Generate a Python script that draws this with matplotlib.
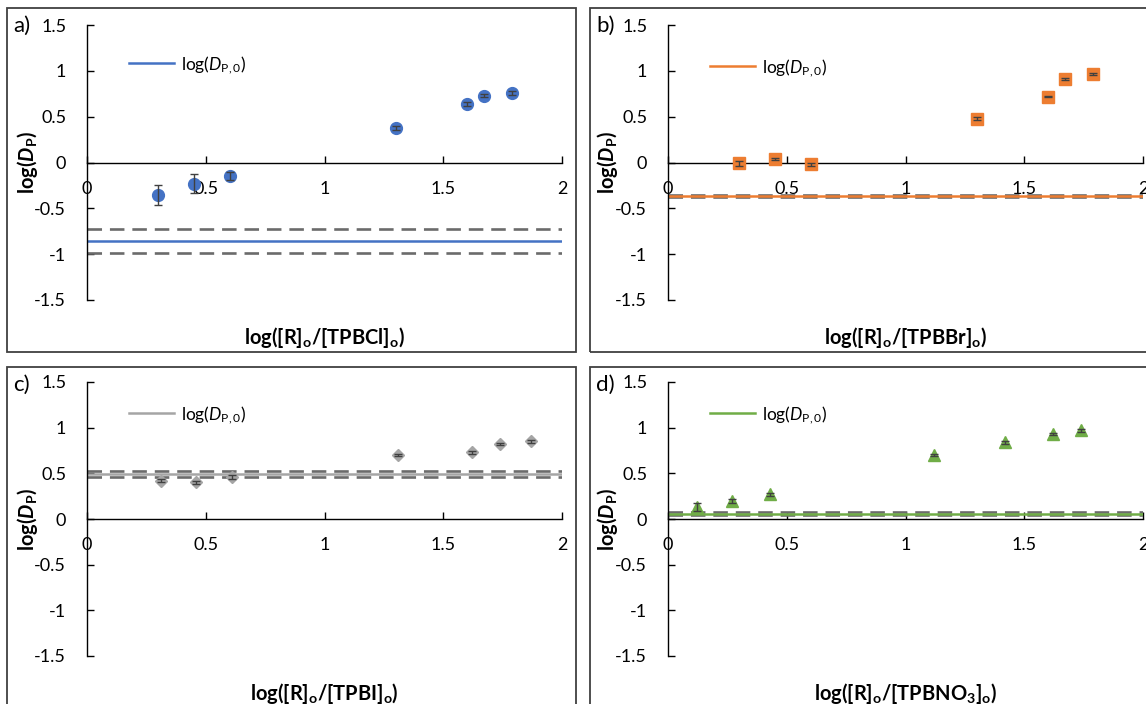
import matplotlib
matplotlib.use("Agg")
import matplotlib.pyplot as plt
from matplotlib.patches import Rectangle

plt.rcParams['font.family'] = ['Lato', 'DejaVu Sans']
plt.rcParams['mathtext.fontset'] = 'custom'
plt.rcParams['mathtext.rm'] = 'Lato'
plt.rcParams['mathtext.it'] = 'Lato:italic'
plt.rcParams['mathtext.bf'] = 'Lato:bold'
plt.rcParams['mathtext.bfit'] = 'Lato:bold:italic'

# panel data
x_a = [0.30, 0.45, 0.60, 1.30, 1.60, 1.67, 1.79]
y_a = [-0.35, -0.23, -0.15, 0.38, 0.64, 0.73, 0.76]
err_a = [0.11, 0.10, 0.045, 0.02, 0.02, 0.02, 0.02]
dp0_a = [-0.86, -0.73, -0.99]   # value, upper, lower

x_b = [0.30, 0.45, 0.60, 1.30, 1.60, 1.67, 1.79]
y_b = [-0.01, 0.04, -0.02, 0.48, 0.72, 0.91, 0.97]
err_b = [0.03, 0.012, 0.02, 0.015, 0.01, 0.01, 0.01]
dp0_b = [-0.365, -0.35, -0.38]

x_c = [0.31, 0.46, 0.61, 1.31, 1.62, 1.74, 1.87]
y_c = [0.42, 0.40, 0.46, 0.70, 0.73, 0.82, 0.85]
err_c = [0.02, 0.02, 0.02, 0.015, 0.015, 0.015, 0.015]
dp0_c = [0.495, 0.525, 0.465]

x_d = [0.12, 0.27, 0.43, 1.12, 1.42, 1.62, 1.74]
y_d = [0.13, 0.20, 0.27, 0.70, 0.84, 0.93, 0.97]
err_d = [0.04, 0.02, 0.02, 0.015, 0.015, 0.015, 0.015]
dp0_d = [0.06, 0.073, 0.047]

panels = [
    ('a)', x_a, y_a, err_a, dp0_a, '#4472C4', 'o', 8.5, r'$\mathbf{log([R]_o/[TPBCl]_o)}$'),
    ('b)', x_b, y_b, err_b, dp0_b, '#ED7D31', 's', 8, r'$\mathbf{log([R]_o/[TPBBr]_o)}$'),
    ('c)', x_c, y_c, err_c, dp0_c, '#A5A5A5', 'D', 6, r'$\mathbf{log([R]_o/[TPBI]_o)}$'),
    ('d)', x_d, y_d, err_d, dp0_d, '#70AD47', '^', 8.5, r'$\mathbf{log([R]_o/[TPBNO_3]_o)}$'),
]

W, H = 1146, 704
fig = plt.figure(figsize=(W / 100, H / 100), dpi=100)

# pixel layout: (axis left, x=2 px, y=1.5 px, y=-1.5 px), frame box
axes_px = [(87, 562, 25, 300), (668, 1143, 25, 300),
           (87, 562, 382, 656), (668, 1143, 382, 656)]
frames_px = [(7, 8, 576, 352), (590, 8, 1160, 352),
             (7, 367, 576, 715), (590, 367, 1160, 715)]
leg_y = [0.855, 0.845, 0.88, 0.88]

for i, (tag, xs, ys, es, dp0, col, mk, ms, xlab) in enumerate(panels):
    fx0, fy0, fx1, fy1 = frames_px[i]
    fig.patches.append(Rectangle((fx0 / W, 1 - fy1 / H), (fx1 - fx0) / W, (fy1 - fy0) / H,
                                 transform=fig.transFigure, fill=False,
                                 edgecolor='#404040', linewidth=1.3))
    fig.text((fx0 + 6) / W, 1 - (fy0 + 18) / H, tag, fontsize=16, va='center', ha='left')

    l, r, t, b = axes_px[i]
    ax = fig.add_axes([l / W, 1 - b / H, (r - l) / W, (b - t) / H])
    ax.set_xlim(0, 2)
    ax.set_ylim(-1.5, 1.5)

    ax.axhline(dp0[1], color='#6B6B6B', lw=1.9, dashes=(5.5, 3), zorder=2)
    ax.axhline(dp0[2], color='#6B6B6B', lw=1.9, dashes=(5.5, 3), zorder=2)
    ax.axhline(dp0[0], color=col, lw=1.8, zorder=2, label=r'log($D_{\mathrm{P,0}}$)')

    # markers first, error bars drawn over them
    ax.plot(xs, ys, mk, color=col, markersize=ms, markeredgecolor=col, zorder=4)
    ax.errorbar(xs, ys, yerr=es, fmt='none', ecolor='#404040', elinewidth=1,
                capsize=3, capthick=1, zorder=5)

    ax.spines['top'].set_visible(False)
    ax.spines['right'].set_visible(False)
    ax.spines['bottom'].set_position(('data', 0))
    ax.spines['left'].set_linewidth(1)
    ax.spines['bottom'].set_linewidth(1)
    ax.set_xticks([0, 0.5, 1, 1.5, 2])
    ax.set_xticklabels(['0', '0.5', '1', '1.5', '2'])
    ax.set_yticks([-1.5, -1, -0.5, 0, 0.5, 1, 1.5])
    ax.set_yticklabels(['-1.5', '-1', '-0.5', '0', '0.5', '1', '1.5'])
    ax.tick_params(axis='both', direction='in', length=5, width=1, labelsize=13)
    ax.tick_params(axis='x', pad=13)
    ax.tick_params(axis='y', pad=15)

    ax.set_ylabel(r'$\mathbf{log(}\mathbfit{D}_{\mathbf{P}}\mathbf{)}$', fontsize=14.5)
    ax.yaxis.set_label_coords(-0.10, 0.5)
    ax.set_xlabel(xlab, fontsize=14.5)
    ax.xaxis.set_label_coords(0.5, -0.09)

    ax.legend(loc='center left', bbox_to_anchor=(0.055, leg_y[i]), frameon=False,
              fontsize=12.5, handlelength=2.6, handletextpad=0.4)

fig.savefig('out.png', dpi=100)
